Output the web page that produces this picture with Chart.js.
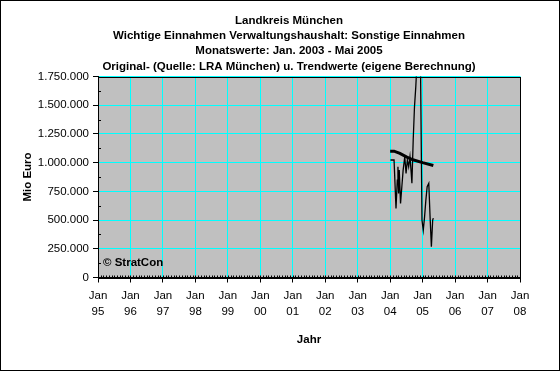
<!DOCTYPE html>
<html>
<head>
<meta charset="utf-8">
<script src="https://cdn.jsdelivr.net/npm/chart.js@4"></script>
<style>
  html, body { margin: 0; padding: 0; background: #fff; }
</style>
</head>
<body>
<canvas id="chart" width="560" height="371"></canvas>
<script>
// --- data ---
const titleLines = [
  'Landkreis München',
  'Wichtige Einnahmen Verwaltungshaushalt: Sonstige Einnahmen',
  'Monatswerte: Jan. 2003 - Mai 2005',
  'Original- (Quelle: LRA München) u. Trendwerte (eigene Berechnung)'
];
const tickMonth = 'Jan';
const yearMin = 1995;
const yearMax = 2008;
const yMax = 1750000;
const yStep = 250000;

// original series (x as decimal year, y in Euro)
const origX = [2004.01, 2004.12, 2004.18, 2004.22, 2004.24, 2004.26, 2004.28, 2004.32, 2004.36, 2004.40,
               2004.45, 2004.49, 2004.53, 2004.57, 2004.61, 2004.65, 2004.67, 2004.71, 2004.75, 2004.79,
               2004.85, 2004.93, 2004.98, 2005.02, 2005.06, 2005.10, 2005.14, 2005.19, 2005.23, 2005.27,
               2005.31, 2005.33];
const origY = [1023000, 1023000, 602000, 848000, 964000, 732000, 935000, 645000, 790000, 935000,
               1051000, 907000, 1023000, 964000, 1051000, 907000, 820000, 1197000, 1488000, 1662000,
               2000000, 2000000, 500000, 412000, 528000, 674000, 790000, 820000, 528000, 267000,
               500000, 517000];

// trend series
const trendX = [2004.0, 2004.12, 2004.3, 2004.5, 2004.7, 2005.0, 2005.33];
const trendY = [1100000, 1100000, 1080000, 1050000, 1025000, 1000000, 975000];

const fontFam = '"Liberation Sans", Arial, sans-serif';
Chart.defaults.font.family = fontFam;
Chart.defaults.font.size = 11.5;
Chart.defaults.color = '#000';

const fmt = v => String(v).replace(/\B(?=(\d{3})+(?!\d))/g, '.');

const decor = {
  id: 'decor',
  beforeDraw(chart) {
    const { ctx, chartArea: a } = chart;
    ctx.save();
    ctx.fillStyle = '#fff';
    ctx.fillRect(0, 0, chart.width, chart.height);
    ctx.fillStyle = '#c0c0c0';
    ctx.fillRect(a.left, a.top, a.right - a.left, a.bottom - a.top);
    ctx.restore();
  },
  afterDraw(chart) {
    const { ctx, chartArea: a, scales: { x, y } } = chart;
    ctx.save();
    ctx.strokeStyle = '#000';
    ctx.lineWidth = 1;
    // plot frame
    ctx.strokeRect(Math.round(a.left) + 0.5, Math.round(a.top) + 0.5,
                   Math.round(a.right - a.left), Math.round(a.bottom - a.top));
    // minor ticks
    ctx.beginPath();
    for (let m = 0; m <= (yearMax - yearMin) * 12; m++) {
      const px = Math.round(x.getPixelForValue(yearMin + m / 12)) + 0.5;
      ctx.moveTo(px, a.bottom);
      ctx.lineTo(px, a.bottom - 2);
    }
    for (let v = yStep / 2; v < yMax; v += yStep) {
      const py = Math.round(y.getPixelForValue(v)) + 0.5;
      ctx.moveTo(a.left, py);
      ctx.lineTo(a.left + 3, py);
    }
    ctx.stroke();
    // title
    ctx.fillStyle = '#000';
    ctx.font = 'bold 11.5px ' + fontFam;
    ctx.textAlign = 'center';
    ctx.textBaseline = 'middle';
    titleLines.forEach((t, i) => ctx.fillText(t, 289, 20.5 + i * 15.4));
    // copyright note
    ctx.textAlign = 'left';
    ctx.fillText('© StratCon', 103, 263);
    // outer frame
    ctx.strokeRect(0.5, 0.5, chart.width - 1, chart.height - 1);
    ctx.restore();
  }
};

new Chart(document.getElementById('chart'), {
  type: 'line',
  data: {
    datasets: [
      {
        label: 'Original',
        data: origX.map((v, i) => ({ x: v, y: origY[i] })),
        borderColor: '#000',
        borderWidth: 1.3,
        pointRadius: 0,
        tension: 0,
        fill: false
      },
      {
        label: 'Trend',
        data: trendX.map((v, i) => ({ x: v, y: trendY[i] })),
        borderColor: '#000',
        borderWidth: 3,
        pointRadius: 0,
        tension: 0,
        fill: false
      }
    ]
  },
  options: {
    responsive: false,
    animation: false,
    layout: { padding: { top: 76.5, right: 40, left: 0, bottom: 0 } },
    plugins: {
      legend: { display: false },
      title: { display: false },
      tooltip: { enabled: false }
    },
    scales: {
      x: {
        type: 'linear',
        min: yearMin,
        max: yearMax,
        ticks: {
          stepSize: 1,
          autoSkip: false,
          maxRotation: 0,
          padding: 6,
          font: { size: 11.5, lineHeight: 1.36 },
          callback: v => [tickMonth, String(v % 100).padStart(2, '0')]
        },
        grid: { color: '#00ffff', tickColor: '#000', tickLength: 5, lineWidth: 1 },
        border: { color: '#000' },
        title: { display: true, text: 'Jahr', font: { weight: 'bold', size: 11.5 }, padding: { top: 0, bottom: 24 } },
        afterFit: s => { s.height = 93.5; }
      },
      y: {
        min: 0,
        max: yMax,
        ticks: {
          stepSize: yStep,
          padding: 4,
          callback: v => fmt(v)
        },
        grid: { color: '#00ffff', tickColor: '#000', tickLength: 5, lineWidth: 1 },
        border: { color: '#000' },
        title: { display: true, text: 'Mio Euro', font: { weight: 'bold', size: 11.5 }, padding: { top: 21, bottom: 0 } },
        afterFit: s => { s.width = 98; }
      }
    }
  },
  plugins: [decor]
});
</script>
</body>
</html>
